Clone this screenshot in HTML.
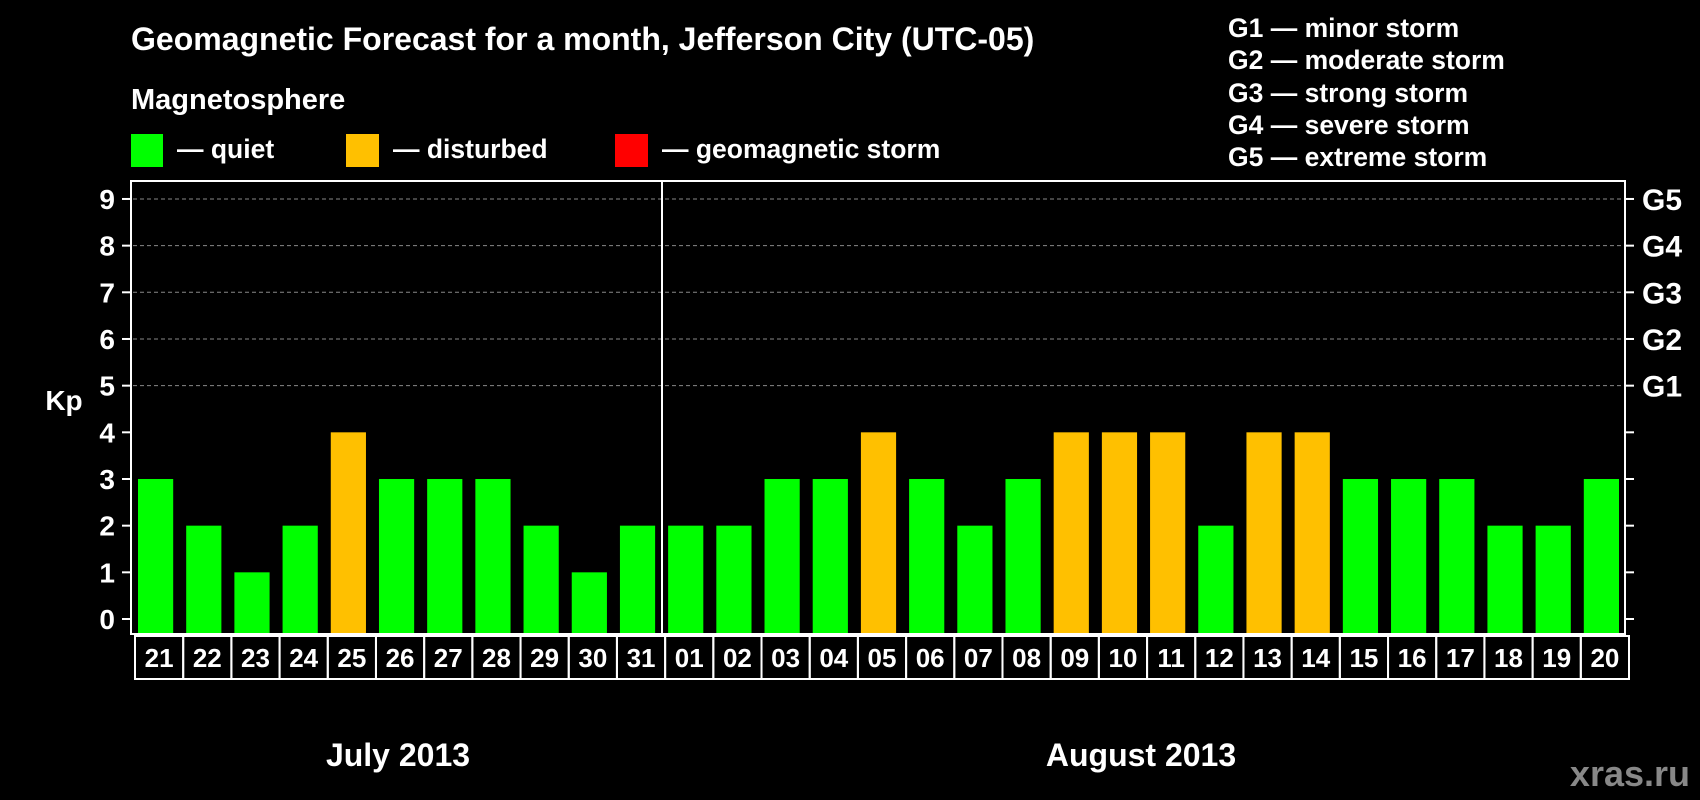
<!DOCTYPE html>
<html><head><meta charset="utf-8"><style>
html,body{margin:0;padding:0;background:#000;}
svg{display:block;font-family:"Liberation Sans",sans-serif;font-weight:bold;}
</style></head><body>
<svg id="chart" width="1700" height="800" viewBox="0 0 1700 800">
<rect width="1700" height="800" fill="#000"/>
<text x="131" y="50" fill="#fff" font-size="32">Geomagnetic Forecast for a month, Jefferson City (UTC-05)</text>
<text x="131" y="109" fill="#fff" font-size="29">Magnetosphere</text>
<g>
<rect x="131" y="134" width="32" height="33" fill="#00ff00"/>
<text x="177" y="158" fill="#fff" font-size="26.5">— quiet</text>
<rect x="346" y="134" width="33" height="33" fill="#ffc000"/>
<text x="393" y="158" fill="#fff" font-size="26.5">— disturbed</text>
<rect x="615" y="134" width="33" height="33" fill="#ff0000"/>
<text x="662" y="158" fill="#fff" font-size="26.5">— geomagnetic storm</text>
</g>
<g fill="#fff" font-size="26.5">
<text x="1228" y="37">G1 — minor storm</text>
<text x="1228" y="69">G2 — moderate storm</text>
<text x="1228" y="102">G3 — strong storm</text>
<text x="1228" y="134">G4 — severe storm</text>
<text x="1228" y="166">G5 — extreme storm</text>
</g>
<text x="64" y="410" fill="#fff" font-size="28" text-anchor="middle">Kp</text>
<g id="grid"></g>
<g id="bars"></g>
<g id="labels"></g>
<rect x="131" y="181" width="1494" height="453" fill="none" stroke="#fff" stroke-width="2"/>
<line x1="662" y1="181" x2="662" y2="634" stroke="#fff" stroke-width="2"/>
<text x="398" y="766" fill="#fff" font-size="32" text-anchor="middle">July 2013</text>
<text x="1141" y="766" fill="#fff" font-size="32" text-anchor="middle">August 2013</text>
<text x="1690" y="786" fill="#888" font-size="36" text-anchor="end">xras.ru</text>
</svg>
<script>
const days = ["21","22","23","24","25","26","27","28","29","30","31","01","02","03","04","05","06","07","08","09","10","11","12","13","14","15","16","17","18","19","20"];
const kpValues = [3,2,1,2,4,3,3,3,2,1,2,2,2,3,3,4,3,2,3,4,4,4,2,4,4,3,3,3,2,2,3];
const yTicks = [0,1,2,3,4,5,6,7,8,9];
const gLabels = ["G1","G2","G3","G4","G5"];
const NS="http://www.w3.org/2000/svg";
const X0=131, STEP=1494/31, Y0=619, UNIT=46.67;
const y = v => Y0 - v*UNIT;
const x = i => X0 + i*STEP;
function mk(t,a){const e=document.createElementNS(NS,t);for(const k in a)e.setAttribute(k,a[k]);return e;}
const grid=document.getElementById('grid'), bars=document.getElementById('bars'), labels=document.getElementById('labels');
yTicks.forEach(v=>{
  const yy=y(v);
  if(v>=5){const g=mk('line',{x1:133,x2:1623,y1:yy,y2:yy,stroke:'#888','stroke-dasharray':'4,3','stroke-width':1});
  
  
  grid.appendChild(g);}
  const t1=mk('line',{x1:122,x2:131,y1:yy,y2:yy,stroke:'#fff','stroke-width':2});
  
  
  grid.appendChild(t1);
  const t2=mk('line',{x1:1625,x2:1634,y1:yy,y2:yy,stroke:'#fff','stroke-width':2});
  
  
  grid.appendChild(t2);
  const tl=mk('text',{x:115,y:yy+10,fill:'#fff','font-size':28,'text-anchor':'end'});
  tl.textContent=v;
  
  
  grid.appendChild(tl);
});
gLabels.forEach((g,i)=>{
  const tl=mk('text',{x:1642,y:y(5+i)+11,fill:'#fff','font-size':30});
  tl.textContent=g;
  
  
  grid.appendChild(tl);
});
kpValues.forEach((v,i)=>{
  const r=mk('rect',{x:x(i)+7,y:y(v),width:STEP-13,height:Y0+15-y(v),fill:v>=5?'#ff0000':(v>=4?'#ffc000':'#00ff00')});
  
  
  bars.appendChild(r);
});
days.forEach((d,i)=>{
  const c=mk('rect',{x:x(i)+4,y:636,width:STEP,height:43,fill:'none',stroke:'#fff','stroke-width':2});
  
  
  labels.appendChild(c);
  const t=mk('text',{x:x(i)+4+STEP/2,y:667,fill:'#fff','font-size':26,'text-anchor':'middle'});
  t.textContent=d;
  
  
  labels.appendChild(t);
});
</script>
</body></html>
